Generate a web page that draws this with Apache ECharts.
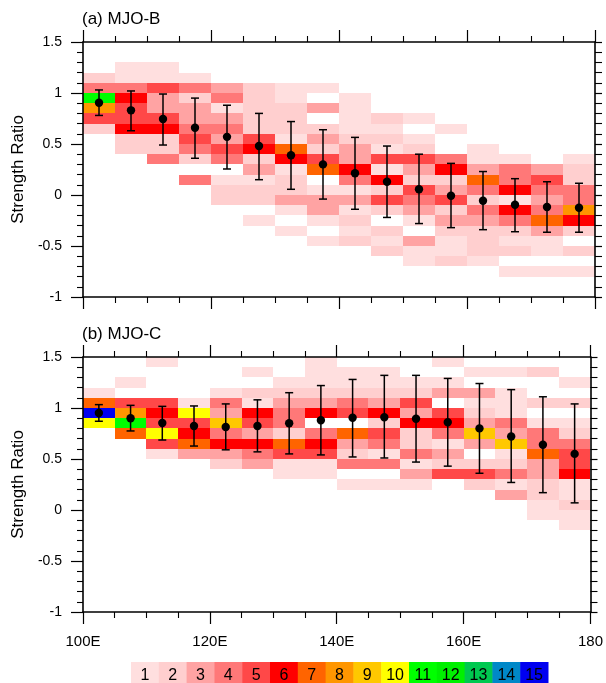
<!DOCTYPE html>
<html>
<head>
<meta charset="utf-8">
<script src="https://cdn.jsdelivr.net/npm/echarts@6.0.0/dist/echarts.min.js"></script>
<style>
html,body{margin:0;padding:0;background:#fff;}
#chart{width:606px;height:683px;}
</style>
</head>
<body>
<div id="chart"></div>
<script>
// ---------------- DATA ----------------
const lonStarts = [100,105,110,115,120,125,130,135,140,145,150,155,160,165,170,175];
const lonCenters = [102.5,107.5,112.5,117.5,122.5,127.5,132.5,137.5,142.5,147.5,152.5,157.5,162.5,167.5,172.5,177.5];
const binWidth = 5;
const rowHeight = 0.1;
const xTickLabels = ['100E','120E','140E','160E','180'];
const yTickLabels = ['-1','-0.5','0','0.5','1','1.5'];
const panelTitles = ['(a) MJO-B','(b) MJO-C'];
const yAxisTitle = 'Strength Ratio';
const legendLevels = [1,2,3,4,5,6,7,8,9,10,11,12,13,14,15];
const levelColors = ['#FFDFDF','#FFCFCF','#FFA3A3','#FF7878','#FF4848','#FF0000','#FF6400','#FF9600','#FFC800','#FFFF00','#00FF00','#00F000','#00C850','#0088C8','#0000F0'];

// Panel (a) MJO-B: row bottoms (top to bottom) and count level per 5-degree column
const rowBottomsB = [1.2,1.1,1.0,0.9,0.8,0.7,0.6,0.5,0.4,0.3,0.2,0.1,0.0,-0.1,-0.2,-0.3,-0.4,-0.5,-0.6,-0.7,-0.8];
const levelsB = [
  [0,1,1,0,0,0,0,0,0,0,0,0,0,0,0,0],
  [2,1,1,1,0,0,0,0,0,0,0,0,0,0,0,0],
  [4,4,5,4,3,2,1,1,0,0,0,0,0,0,0,0],
  [11,6,3,2,4,2,1,0,1,0,0,0,0,0,0,0],
  [8,5,3,3,1,2,2,3,1,0,0,0,0,0,0,0],
  [5,5,5,3,3,2,2,0,1,2,1,0,0,0,0,0],
  [2,6,6,4,4,2,2,2,1,1,0,1,0,0,0,0],
  [0,2,2,5,3,5,1,3,2,2,1,0,0,0,0,0],
  [0,2,2,4,5,6,7,2,3,1,2,0,1,0,0,0],
  [0,0,4,2,4,2,6,5,3,5,5,4,1,1,0,1],
  [0,0,0,0,0,3,1,7,6,1,3,6,3,4,3,2],
  [0,0,0,4,1,1,2,0,4,6,2,2,7,4,5,2],
  [0,0,0,0,2,2,2,1,1,2,5,3,4,6,4,4],
  [0,0,0,0,2,2,3,3,3,5,4,5,2,1,3,4],
  [0,0,0,0,0,0,1,3,1,2,3,2,4,6,4,8],
  [0,0,0,0,0,1,0,1,2,0,1,3,3,4,7,6],
  [0,0,0,0,0,0,1,0,1,2,0,2,2,2,3,2],
  [0,0,0,0,0,0,0,1,2,1,3,1,2,1,1,0],
  [0,0,0,0,0,0,0,0,0,2,1,1,2,2,1,2],
  [0,0,0,0,0,0,0,0,0,0,1,2,1,0,0,0],
  [0,0,0,0,0,0,0,0,0,0,0,0,0,1,1,1]
];
const meanB  = [0.905,0.83,0.745,0.66,0.57,0.48,0.39,0.30,0.213,0.13,0.056,-0.007,-0.056,-0.095,-0.118,-0.125];
const upperB = [1.03,1.02,0.99,0.95,0.88,0.80,0.72,0.64,0.565,0.48,0.40,0.31,0.23,0.16,0.13,0.115];
const lowerB = [0.78,0.63,0.49,0.36,0.255,0.15,0.056,-0.04,-0.14,-0.22,-0.28,-0.32,-0.34,-0.36,-0.365,-0.365];

// Panel (b) MJO-C
const rowBottomsC = [1.4,1.3,1.2,1.1,1.0,0.9,0.8,0.7,0.6,0.5,0.4,0.3,0.2,0.1,0.0,-0.1,-0.2];
const levelsC = [
  [0,0,1,0,0,0,0,1,0,0,0,1,0,0,0,0],
  [0,0,0,0,0,1,0,1,1,1,0,0,1,1,2,0],
  [0,1,0,0,0,0,1,1,1,1,1,1,0,0,0,1],
  [1,0,0,0,1,2,2,2,2,2,2,3,3,1,0,0],
  [7,5,5,1,4,1,3,3,4,3,5,0,1,1,2,2],
  [15,8,6,10,3,6,4,6,5,6,3,5,2,1,0,0],
  [10,11,5,5,9,5,4,0,0,2,6,6,3,4,1,1],
  [0,7,10,6,4,3,2,4,7,5,2,4,9,3,4,2],
  [0,0,5,7,6,6,7,6,3,4,2,1,3,9,4,4],
  [0,0,1,3,3,4,5,5,2,1,4,3,0,1,7,5],
  [0,0,0,0,2,3,1,1,4,4,1,2,2,2,3,5],
  [0,0,0,0,0,0,1,1,0,0,3,5,5,4,3,6],
  [0,0,0,0,0,0,0,0,1,1,1,0,2,1,2,1],
  [0,0,0,0,0,0,0,0,0,0,0,0,0,3,2,1],
  [0,0,0,0,0,0,0,0,0,0,0,0,0,0,1,2],
  [0,0,0,0,0,0,0,0,0,0,0,0,0,0,1,1],
  [0,0,0,0,0,0,0,0,0,0,0,0,0,0,0,1]
];
const meanC  = [0.951,0.899,0.853,0.824,0.814,0.824,0.85,0.88,0.905,0.91,0.895,0.86,0.80,0.72,0.64,0.55];
const upperC = [1.033,1.026,1.016,1.02,1.04,1.08,1.15,1.22,1.28,1.32,1.32,1.29,1.24,1.18,1.11,1.04];
const lowerC = [0.87,0.775,0.686,0.627,0.59,0.57,0.55,0.54,0.52,0.51,0.47,0.43,0.36,0.27,0.17,0.07];

// ---------------- BUILD ----------------
const FONT = 'Liberation Sans, Arial, Helvetica, sans-serif';

function cellData(rowBottoms, levels) {
  const out = [];
  rowBottoms.forEach((yb, r) => {
    levels[r].forEach((lev, c) => {
      if (lev > 0) out.push([lonStarts[c], yb, lev]);
    });
  });
  return out;
}
function barData(mean, lower, upper) {
  return lonCenters.map((x, i) => [x, lower[i], upper[i], mean[i]]);
}

function xAx(gi, pos, showLabel) {
  return {
    type: 'value', gridIndex: gi, position: pos, min: 100, max: 180, interval: 20,
    axisLine: {show: true, onZero: false, lineStyle: {color: '#000', width: 1.6}},
    axisTick: {show: true, inside: false, length: 12, lineStyle: {color: '#000', width: 1.2}},
    minorTick: {show: true, splitNumber: 4, length: 6, lineStyle: {color: '#000', width: 1.1}},
    splitLine: {show: false},
    axisLabel: {show: showLabel, margin: 22, color: '#000', fontSize: 15, fontFamily: FONT,
      formatter: v => xTickLabels[Math.round((v - 100) / 20)]},
    z: 10
  };
}
function yAx(gi, pos, showLabel) {
  return {
    type: 'value', gridIndex: gi, position: pos, min: -1, max: 1.5, interval: 0.5,
    name: showLabel ? yAxisTitle : '', nameLocation: 'middle', nameGap: 54,
    nameTextStyle: {color: '#000', fontSize: 17, fontFamily: FONT},
    axisLine: {show: true, onZero: false, lineStyle: {color: '#000', width: 1.6}},
    axisTick: {show: true, inside: false, length: showLabel ? 12 : 7, lineStyle: {color: '#000', width: 1.2}},
    minorTick: {show: true, splitNumber: 5, length: showLabel ? 6 : 7, lineStyle: {color: '#000', width: 1.1}},
    splitLine: {show: false},
    axisLabel: {show: showLabel, margin: 21, color: '#000', fontSize: 14, fontFamily: FONT,
      formatter: v => yTickLabels[Math.round((v + 1) / 0.5)]},
    z: 10
  };
}

function heatSeries(xi, yi, data) {
  return {
    type: 'custom', xAxisIndex: xi, yAxisIndex: yi, z: 2, silent: true,
    encode: {x: 0, y: 1},
    data: data,
    renderItem: function (params, api) {
      const lon = api.value(0), yb = api.value(1), lev = api.value(2);
      const p0 = api.coord([lon, yb + rowHeight]);
      const p1 = api.coord([lon + binWidth, yb]);
      const x0 = Math.round(p0[0]), x1 = Math.round(p1[0]);
      const y0 = Math.round(p0[1]), y1 = Math.round(p1[1]);
      return {type: 'rect', shape: {x: x0, y: y0, width: x1 - x0, height: y1 - y0},
        style: {fill: levelColors[lev - 1]}};
    }
  };
}
function errSeries(xi, yi, data) {
  return {
    type: 'custom', xAxisIndex: xi, yAxisIndex: yi, z: 5, silent: true,
    encode: {x: 0, y: [1, 2, 3]},
    data: data,
    renderItem: function (params, api) {
      const x = api.value(0);
      const lo = api.coord([x, api.value(1)]);
      const hi = api.coord([x, api.value(2)]);
      const m = api.coord([x, api.value(3)]);
      const cap = 4;
      const ls = {stroke: '#000', lineWidth: 1.5};
      return {type: 'group', children: [
        {type: 'line', shape: {x1: lo[0], y1: lo[1], x2: hi[0], y2: hi[1]}, style: ls},
        {type: 'line', shape: {x1: lo[0] - cap, y1: lo[1], x2: lo[0] + cap, y2: lo[1]}, style: ls},
        {type: 'line', shape: {x1: hi[0] - cap, y1: hi[1], x2: hi[0] + cap, y2: hi[1]}, style: ls},
        {type: 'circle', shape: {cx: m[0], cy: m[1], r: 4.2}, style: {fill: '#000'}}
      ]};
    }
  };
}

// legend (label bar)
const lbLeft = 131, lbTop = 662, lbW = 27.8, lbH = 22;
const legendGraphics = [];
legendLevels.forEach((lev, i) => {
  legendGraphics.push({type: 'rect', left: lbLeft + i * lbW, top: lbTop,
    shape: {width: lbW + 0.5, height: lbH}, style: {fill: levelColors[i]}});
  legendGraphics.push({type: 'text', x: lbLeft + i * lbW + lbW / 2, y: 676,
    style: {text: String(lev), fill: '#000', font: '16px ' + FONT, textAlign: 'center', textVerticalAlign: 'middle'}});
});

const option = {
  animation: false,
  backgroundColor: '#fff',
  title: [
    {text: panelTitles[0], left: 82, top: 11, padding: 0, textStyle: {fontSize: 17, fontWeight: 'normal', color: '#000', fontFamily: FONT}},
    {text: panelTitles[1], left: 82, top: 326, padding: 0, textStyle: {fontSize: 17, fontWeight: 'normal', color: '#000', fontFamily: FONT}}
  ],
  grid: [
    {left: 83, top: 42, width: 512, height: 255},
    {left: 83, top: 357, width: 512, height: 255}
  ],
  xAxis: [xAx(0, 'bottom', false), xAx(0, 'top', false), xAx(1, 'bottom', true), xAx(1, 'top', false)],
  yAxis: [yAx(0, 'left', true), yAx(0, 'right', false), yAx(1, 'left', true), yAx(1, 'right', false)],
  series: [
    heatSeries(0, 0, cellData(rowBottomsB, levelsB)),
    errSeries(0, 0, barData(meanB, lowerB, upperB)),
    heatSeries(2, 2, cellData(rowBottomsC, levelsC)),
    errSeries(2, 2, barData(meanC, lowerC, upperC))
  ],
  graphic: legendGraphics
};

const chart = echarts.init(document.getElementById('chart'), null, {renderer: 'canvas'});
chart.setOption(option);
</script>
</body>
</html>
